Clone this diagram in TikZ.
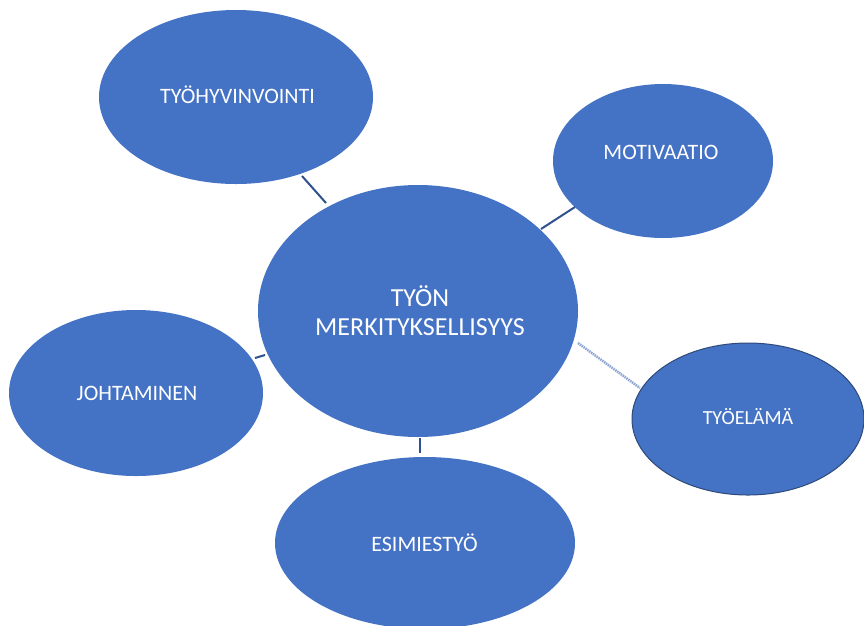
\documentclass[tikz,border=0pt]{standalone}
\usepackage{fontspec}
\setmainfont{Carlito}
\usetikzlibrary{shapes.geometric}
\definecolor{bubble}{HTML}{4472C4}
\definecolor{linkc}{HTML}{2F528F}
\definecolor{lightlink}{HTML}{8EA6D2}
\definecolor{rimc}{HTML}{2E4A7A}
\tikzset{
  bubble/.style={ellipse, fill=bubble, draw=none, inner sep=0pt, text=white, align=center},
  lbl/.style={text=white, font=\fontsize{22}{26}\selectfont, inner sep=0pt},
  link/.style={draw=linkc, line width=2pt},
}
\begin{document}
\begin{tikzpicture}[x=1pt,y=-1pt]
\fill[white] (0,0) rectangle (864,625);
\useasboundingbox (0,0) rectangle (864,625);
% ellipses
\node[bubble, minimum width=274pt, minimum height=174pt] (hyv) at (236,97) {};
\node[bubble, minimum width=220pt, minimum height=154pt] (mot) at (663,161) {};
\node[bubble, minimum width=320pt, minimum height=252pt] (mer) at (418,311) {};
\node[bubble, minimum width=254pt, minimum height=166pt] (joh) at (136,393) {};
\node[bubble, draw=rimc, line width=1pt, minimum width=232pt, minimum height=152pt] (ela) at (748,419) {};
\node[bubble, minimum width=300pt, minimum height=172pt] (esi) at (425,543) {};
% labels
\node[lbl] (thyv) at (237.5,95) {TYÖHYVINVOINTI};
\node[lbl] (tmot) at (661,152) {MOTIVAATIO};
\node[lbl] (tjoh) at (137,393) {JOHTAMINEN};
\node[lbl] (tesi) at (424.5,543) {ESIMIESTYÖ};
\node[lbl, font=\fontsize{20}{24}\selectfont] (tela) at (748,417) {TYÖELÄMÄ};
\node[lbl, align=center, font=\fontsize{26}{29}\selectfont] (tmer) at (420,311) {TYÖN\\MERKITYKSELLISYYS};
% connectors
\coordinate (a1) at (302,176); \coordinate (a2) at (326,203);
\coordinate (b1) at (541,229); \coordinate (b2) at (575,207);
\coordinate (c1) at (255,358); \coordinate (c2) at (265,355);
\coordinate (d1) at (420,438); \coordinate (d2) at (420,453);
\coordinate (e1) at (578,343); \coordinate (e2) at (640,388);
\draw[link] (a1) -- (a2);
\draw[link] (b1) -- (b2);
\draw[link] (c1) -- (c2);
\draw[link] (d1) -- (d2);
\draw[draw=lightlink, line width=2.5pt, dash pattern=on 1.5pt off 0.8pt] (e1) -- (e2);
\end{tikzpicture}
\end{document}
